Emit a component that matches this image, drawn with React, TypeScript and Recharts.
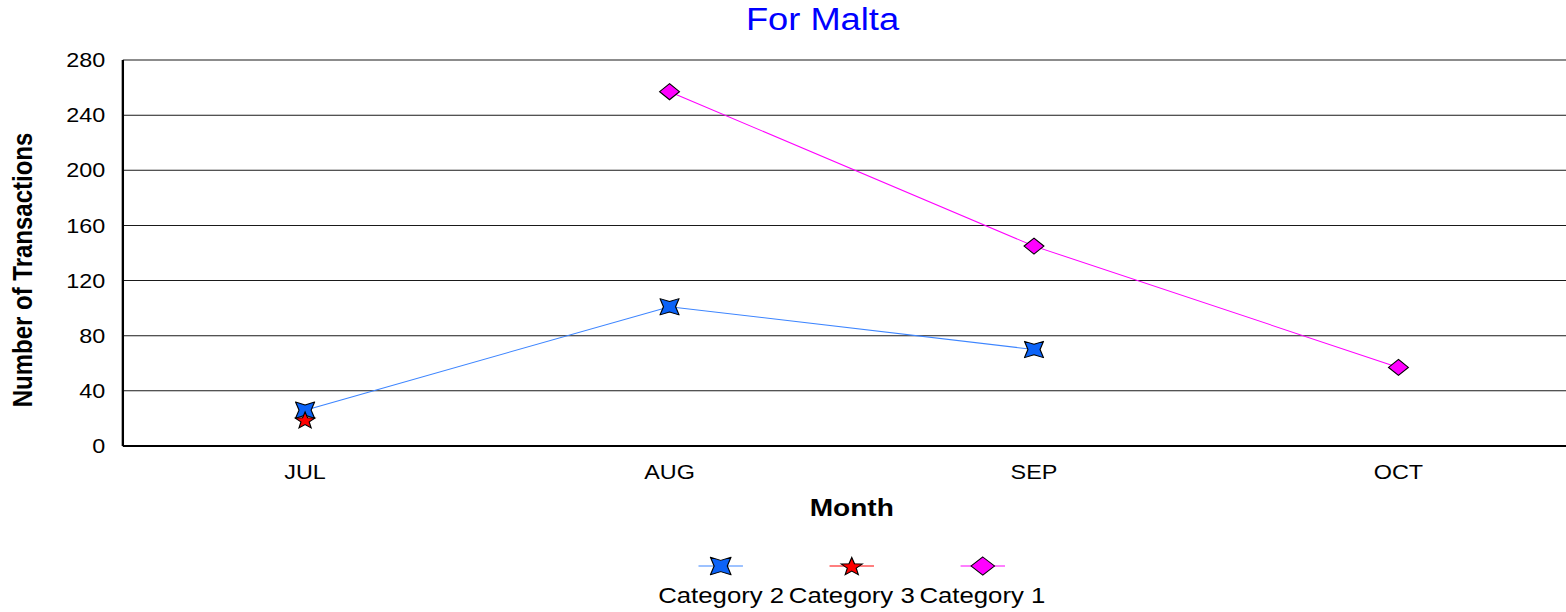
import React from 'react';
import { LineChart, Line, XAxis, YAxis, CartesianGrid, Legend } from 'recharts';

const months = ['JUL', 'AUG', 'SEP', 'OCT'];
const category2 = [26, 101, 70, null];
const category3 = [19, null, null, null];
const category1 = [null, 257, 145, 57];
const yTicks = [0, 40, 80, 120, 160, 200, 240, 280];
const legendOrder = ['cat2', 'cat3', 'cat1'];

const data = months.map((month, i) => ({
  month,
  cat2: category2[i],
  cat3: category3[i],
  cat1: category1[i],
}));

const FONT = '"Liberation Sans", Arial, Helvetica, sans-serif';
// the reference is stretched sideways, so everything is drawn narrow and scaled out
const STRETCH = 1.17;

const BLUE_LINE = '#3d85ff';
const BLUE_FILL = '#0c63f7';
const RED = '#ff0000';
const MAGENTA = '#ff00ff';

function starPoints(cx: number, cy: number, n: number, outer: number, inner: number, start: number) {
  const pts: string[] = [];
  for (let i = 0; i < n * 2; i++) {
    const r = i % 2 === 0 ? outer : inner;
    const a = start + (i * Math.PI) / n;
    pts.push(`${cx + r * Math.cos(a)},${cy + r * Math.sin(a)}`);
  }
  return pts.join(' ');
}

function Marker({ kind, cx, cy, big }: { kind: string; cx: number; cy: number; big?: boolean }) {
  if (kind === 'star4') {
    const R = big ? 12.5 : 11.5;
    return (
      <polygon
        points={starPoints(cx, cy, 4, R, R * 0.45, -Math.PI / 4)}
        fill={BLUE_FILL}
        stroke="#000"
        strokeWidth={1}
        strokeLinejoin="round"
      />
    );
  }
  if (kind === 'star5') {
    const R = big ? 9.5 : 8.8;
    return (
      <polygon
        points={starPoints(cx, cy + 1, 5, R, R * 0.42, -Math.PI / 2)}
        fill={RED}
        stroke="#000"
        strokeWidth={1}
      />
    );
  }
  const w = big ? 10 : 8.5;
  const h = big ? 9 : 8;
  return (
    <polygon
      points={`${cx},${cy - h} ${cx + w},${cy} ${cx},${cy + h} ${cx - w},${cy}`}
      fill={MAGENTA}
      stroke="#000"
      strokeWidth={1}
    />
  );
}

const makeDot = (kind: string) => (props: any) => {
  const { cx, cy, index } = props;
  if (typeof cy !== 'number' || Number.isNaN(cy) || typeof cx !== 'number') {
    return <g key={`${kind}-${index}`} />;
  }
  return (
    <g key={`${kind}-${index}`}>
      <Marker kind={kind} cx={cx} cy={cy} />
    </g>
  );
};

const markerFor: Record<string, string> = { cat2: 'star4', cat3: 'star5', cat1: 'diamond' };

function LegendContent(props: any) {
  const { payload = [] } = props;
  const items = [...payload].sort(
    (a: any, b: any) => legendOrder.indexOf(a.dataKey) - legendOrder.indexOf(b.dataKey),
  );
  return (
    <div style={{ display: 'flex', justifyContent: 'center', fontFamily: FONT }}>
      {items.map((p: any) => (
        <div
          key={p.dataKey}
          style={{ display: 'flex', flexDirection: 'column', alignItems: 'center', margin: '0 2px' }}
        >
          <svg width={40} height={26}>
            <line x1={1} y1={13} x2={39} y2={13} stroke={p.color} strokeWidth={1} />
            <Marker kind={markerFor[p.dataKey]} cx={20} cy={13} big />
          </svg>
          <div style={{ fontSize: 22, lineHeight: 1, marginTop: 6, color: '#000', whiteSpace: 'nowrap' }}>
            {p.value}
          </div>
        </div>
      ))}
    </div>
  );
}

export default function App() {
  return (
    <div
      style={{
        position: 'fixed',
        left: 0,
        top: 0,
        width: 1566,
        height: 612,
        overflow: 'hidden',
        background: '#fff',
        fontFamily: FONT,
      }}
    >
      <div
        style={{
          position: 'relative',
          width: 1360,
          height: 612,
          transform: `scaleX(${STRETCH})`,
          transformOrigin: '0 0',
        }}
      >
        <div
          style={{
            position: 'absolute',
            top: 4,
            left: 0,
            width: 1406,
            textAlign: 'center',
            fontSize: 31,
            lineHeight: 1,
            color: '#0000ff',
          }}
        >
          For Malta
        </div>
        <LineChart
          width={1360}
          height={612}
          data={data}
          margin={{ top: 60, right: 9, bottom: 86, left: 0 }}
        >
          <CartesianGrid vertical={false} stroke="#1a1a1a" strokeWidth={1} />
          <XAxis
            dataKey="month"
            scale="band"
            height={80}
            tickLine={false}
            tickSize={0}
            tickMargin={19}
            axisLine={{ stroke: '#000', strokeWidth: 2 }}
            tick={{ fontSize: 20, fill: '#000' }}
            label={() => (
              <text
                x={728}
                y={516}
                textAnchor="middle"
                fontSize={24}
                fontWeight="bold"
                fill="#000"
              >
                Month
              </text>
            )}
          />
          <YAxis
            width={105}
            domain={[0, 280]}
            ticks={yTicks}
            interval={0}
            tickLine={false}
            tickSize={0}
            tickMargin={15}
            axisLine={{ stroke: '#000', strokeWidth: 2 }}
            tick={{ fontSize: 20, fill: '#000' }}
            label={() => (
              <text
                x={19}
                y={270}
                transform="rotate(-90 19 270)"
                textAnchor="middle"
                dominantBaseline="central"
                fontSize={24}
                fontWeight="bold"
                fill="#000"
              >
                Number of Transactions
              </text>
            )}
          />
          <Legend
            layout="horizontal"
            verticalAlign="middle"
            align="center"
            content={<LegendContent />}
            wrapperStyle={{ top: 553, left: 105, width: 1246 }}
          />
          <Line
            dataKey="cat2"
            name="Category 2"
            stroke={BLUE_LINE}
            strokeWidth={1}
            dot={makeDot('star4')}
            activeDot={false}
            isAnimationActive={false}
          />
          <Line
            dataKey="cat3"
            name="Category 3"
            stroke={RED}
            strokeWidth={1}
            dot={makeDot('star5')}
            activeDot={false}
            isAnimationActive={false}
          />
          <Line
            dataKey="cat1"
            name="Category 1"
            stroke={MAGENTA}
            strokeWidth={1}
            dot={makeDot('diamond')}
            activeDot={false}
            isAnimationActive={false}
          />
        </LineChart>
      </div>
    </div>
  );
}
